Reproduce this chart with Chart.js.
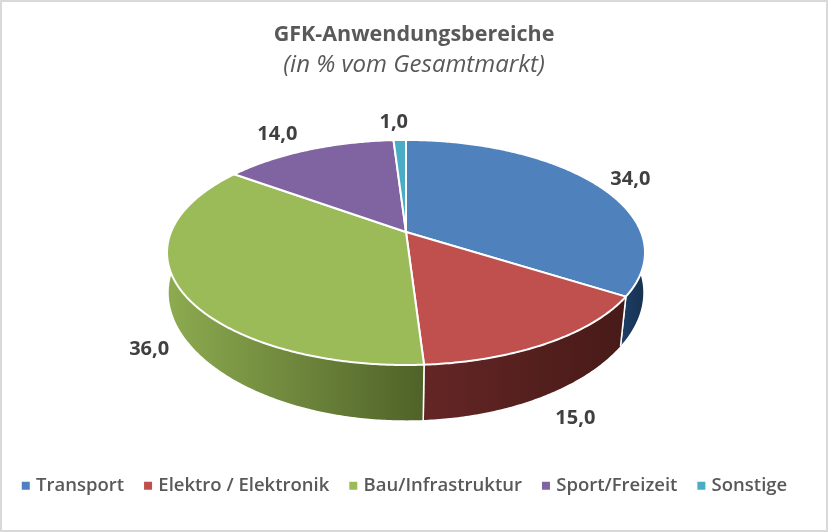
<!DOCTYPE html>
<html>
<head>
<meta charset="utf-8">
<title>GFK-Anwendungsbereiche</title>
<script src="https://cdn.jsdelivr.net/npm/chart.js@4/dist/chart.umd.min.js"></script>
<style>
  html, body { margin: 0; padding: 0; background: #fff; overflow: hidden; }
  canvas { display: block; outline: 2px solid #d9d9d9; outline-offset: -2px; }
</style>
</head>
<body>
<canvas id="mycanvas" width="828" height="532"></canvas>
<script>
const categories = ['Transport', 'Elektro / Elektronik', 'Bau/Infrastruktur', 'Sport/Freizeit', 'Sonstige']
const values = [34.0, 15.0, 36.0, 14.0, 1.0]
const valueLabels = ['34,0', '15,0', '36,0', '14,0', '1,0']
const colors = ['#4f81bd', '#c0504d', '#9bbb59', '#8064a2', '#4bacc6']

// side wall shading, left to right
const wallColors = [
  ['#1d3f68', '#17304f'],
  ['#642625', '#471a18'],
  ['#8dab50', '#4f6228'],
  ['#4d3b62', '#3f3151'],
  ['#2a7a90', '#205867']
]
// label shift from the slice's rim point
const labelShift = [[35, -5], [33, 22], [-36, 11], [-31, -15], [-6, -18]]

// perspective of the tilted disc
const view = { x: 406, y: 232, rx: 235, ry: 108.8, p: 0.182, depth: 43.8, taper: 0.045, stretch: 1.087 }

function topPoint(a) {
  let u = Math.sin(a), v = Math.cos(a)
  let d = 1 + view.p * v
  return [view.x + view.rx * u / d, view.y - view.ry * v / d]
}
function lowPoint(a) {
  let t = topPoint(a)
  let shrink = 1 + view.taper * Math.min(Math.cos(a), 0)
  return [view.x + (t[0] - view.x) * shrink, view.y + view.depth + (t[1] - view.y) * view.stretch]
}
function arcPoints(fn, from, to) {
  let pts = []
  let n = Math.max(2, Math.ceil(Math.abs(to - from) / 0.01))
  for (let i = 0; i <= n; i++) pts.push(fn(from + (to - from) * i / n))
  return pts
}
function tracePath(ctx, pts) {
  ctx.beginPath()
  pts.forEach((p, i) => i == 0 ? ctx.moveTo(p[0], p[1]) : ctx.lineTo(p[0], p[1]))
  ctx.closePath()
}

const tiltedPie = {
  id: 'tiltedPie',
  afterLayout(chart) {
    // legend sits a little left of the title's centre
    chart.legend.left -= 8
    chart.legend.right -= 8
  },
  beforeDatasetDraw(chart, args) {
    const ctx = chart.ctx
    const arcs = args.meta.data
    ctx.save()
    ctx.lineJoin = 'round'
    ctx.strokeStyle = '#fff'

    // walls on the near half
    arcs.forEach((arc, i) => {
      let from = Math.max(arc.startAngle + Math.PI / 2, Math.PI / 2)
      let to = Math.min(arc.endAngle + Math.PI / 2, Math.PI * 1.5)
      if (to <= from) return
      let upper = arcPoints(topPoint, from, to)
      let lower = arcPoints(lowPoint, to, from)
      let xs = upper.concat(lower).map(p => p[0])
      let grad = ctx.createLinearGradient(Math.min(...xs), 0, Math.max(...xs), 0)
      grad.addColorStop(0, wallColors[i][0])
      grad.addColorStop(1, wallColors[i][1])
      tracePath(ctx, upper.concat(lower))
      ctx.fillStyle = grad
      ctx.fill()
      // only the slice joints get a white line
      ctx.lineWidth = 1.5
      ;[[upper[0], lower[lower.length - 1]], [upper[upper.length - 1], lower[0]]].forEach(seg => {
        ctx.beginPath()
        ctx.moveTo(seg[0][0], seg[0][1])
        ctx.lineTo(seg[1][0], seg[1][1])
        ctx.stroke()
      })
    })

    // top faces
    arcs.forEach((arc, i) => {
      let from = arc.startAngle + Math.PI / 2
      let to = arc.endAngle + Math.PI / 2
      tracePath(ctx, [[view.x, view.y]].concat(arcPoints(topPoint, from, to)))
      ctx.fillStyle = colors[i]
      ctx.fill()
      ctx.lineWidth = 2
      ctx.stroke()
    })

    // value labels
    ctx.font = 'bold 20px "Open Sans"'
    ctx.fillStyle = '#404040'
    ctx.textAlign = 'center'
    ctx.textBaseline = 'middle'
    arcs.forEach((arc, i) => {
      let mid = (arc.startAngle + arc.endAngle) / 2 + Math.PI / 2
      let near = Math.cos(mid) < -0.3
      let p = near ? lowPoint(mid) : topPoint(mid)
      ctx.fillText(valueLabels[i], p[0] + labelShift[i][0], p[1] + labelShift[i][1])
    })
    ctx.restore()
    return false
  }
}

new Chart(document.getElementById('mycanvas'), {
  type: 'pie',
  data: {
    labels: categories,
    datasets: [{ data: values, backgroundColor: colors, borderWidth: 0 }]
  },
  plugins: [tiltedPie],
  options: {
    responsive: false,
    animation: false,
    events: [],
    layout: { padding: { top: 22, bottom: 27, left: 0, right: 0 } },
    plugins: {
      tooltip: { enabled: false },
      title: {
        display: true,
        text: 'GFK-Anwendungsbereiche',
        color: '#595959',
        font: { family: '"Open Sans"', size: 21.5, weight: 'bold' },
        padding: { top: 0, bottom: 3 }
      },
      subtitle: {
        display: true,
        text: '(in % vom Gesamtmarkt)',
        color: '#595959',
        font: { family: '"Open Sans"', size: 24, style: 'italic', weight: 'normal' },
        padding: { top: 0, bottom: 10 }
      },
      legend: {
        position: 'bottom',
        labels: {
          usePointStyle: true,
          pointStyle: 'rect',
          boxWidth: 2,
          boxHeight: 8,
          padding: 23,
          color: '#595959',
          font: { family: '"Open Sans"', size: 18.5, weight: '600' }
        }
      }
    }
  }
})
</script>
</body>
</html>
